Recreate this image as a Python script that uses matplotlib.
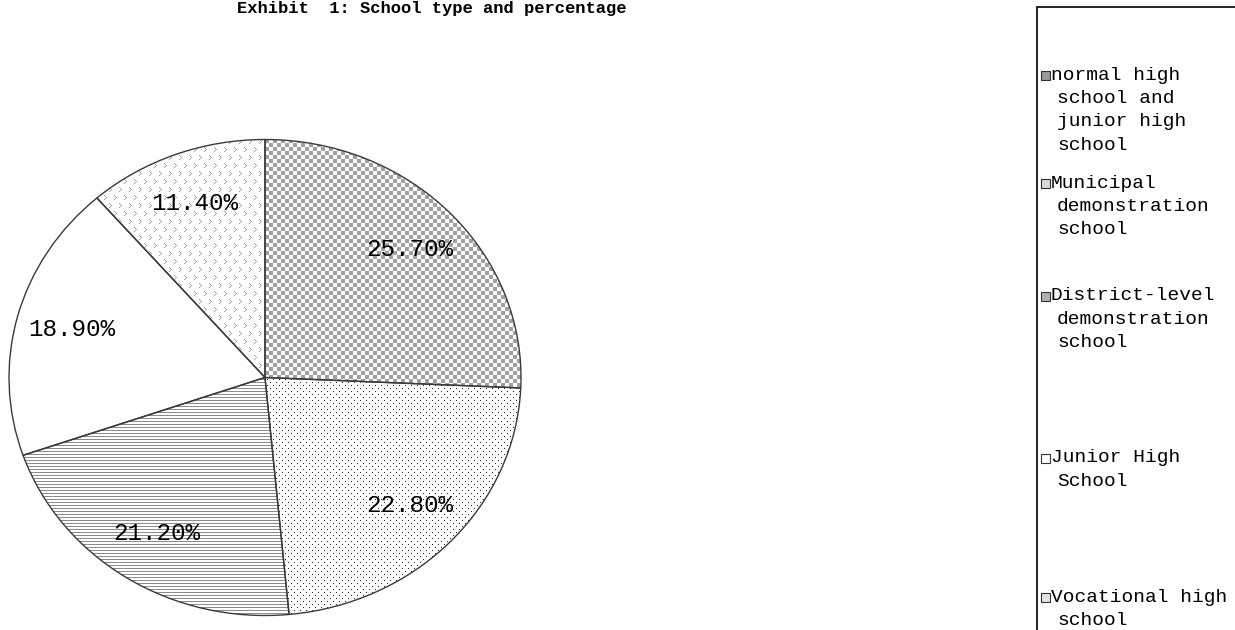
import numpy as np
import matplotlib
matplotlib.use("Agg")
import matplotlib.pyplot as plt
from matplotlib.patches import Rectangle

# data
shares = [25.7, 22.8, 21.2, 18.9, 11.4]
school_types = [
    "normal high\nschool and\njunior high\nschool",
    "Municipal\ndemonstration\nschool",
    "District-level\ndemonstration\nschool",
    "Junior High\nSchool",
    "Vocational high\nschool",
]
title = "Exhibit  1: School type and percentage"

W, H = 1235, 630
FONT = "Liberation Mono"


def pattern(kind, h, w):
    yy, xx = np.mgrid[0:h, 0:w]
    img = np.ones((h, w, 3))
    if kind == "checker":
        mask = ((xx // 4) + (yy // 4)) % 2 == 0
        img[mask] = 0.63
    elif kind == "dots":
        mask = ((xx % 6 == 0) & (yy % 6 == 0)) | ((xx % 6 == 3) & (yy % 6 == 3))
        img[mask] = 0.15
    elif kind == "hlines":
        mask = yy % 3 == 0
        img[mask] = 0.55
    elif kind == "chevron":
        ty = yy % 8
        shift = ((yy // 8) % 2) * 5
        tx = (xx + shift) % 10
        mask = ((ty == 0) & (tx == 0)) | ((ty == 1) & (tx == 1)) | ((ty == 2) & (tx == 2)) \
            | ((ty == 3) & (tx == 1)) | ((ty == 4) & (tx == 0))
        img[mask] = 0.62
    return img


kinds = ["checker", "dots", "hlines", "plain", "chevron"]
marker_grey = ["#9a9a9a", "#d8d8d8", "#b0b0b0", "white", "#e4e4e4"]

fig = plt.figure(figsize=(W / 100, H / 100), dpi=100)

# pie is slightly squashed vertically in the original
cx, cy, rx, ry = 265, 377.5, 256, 238
ax = fig.add_axes([(cx - rx) / W, (H - cy - ry) / H, 2 * rx / W, 2 * ry / H])

wedges, texts, autotexts = ax.pie(
    shares, startangle=90, counterclock=False, radius=1,
    autopct=lambda p: f"{p:.2f}%", pctdistance=0.78,
    wedgeprops=dict(facecolor="none", edgecolor="#3a3a3a", linewidth=1.0),
    textprops=dict(fontsize=17.5, family=FONT, color="black"),
)

ph, pw = int(2 * ry), int(2 * rx)
for w, kind in zip(wedges, kinds):
    w.set_zorder(2)
    w.set_clip_on(False)
    if kind == "plain":
        continue
    im = ax.imshow(pattern(kind, ph, pw), extent=(-1, 1, -1, 1),
                   interpolation="nearest", zorder=1)
    im.set_clip_path(w)
for t in autotexts:
    t.set_zorder(3)

ax.set_aspect("auto")
ax.set_xlim(-1, 1)
ax.set_ylim(-1, 1)
ax.axis("off")

fig.text(237 / W, 1 - 13 / H, title, ha="left", va="baseline",
         fontsize=12.3, fontweight="bold", family=FONT)

# legend box runs past the right and bottom edges
fig.patches.append(Rectangle((1037 / W, -0.1), 300 / W, 1.1 - 7 / H,
                             transform=fig.transFigure, fill=False,
                             edgecolor="black", linewidth=1.2))

entry_y = [75, 183, 296, 458, 597]
line_h = 23.5
for label, y0, g in zip(school_types, entry_y, marker_grey):
    lines = label.split("\n")
    fig.patches.append(Rectangle((1041 / W, 1 - (y0 + 4.5) / H), 9 / W, 9 / H,
                                 transform=fig.transFigure, facecolor=g,
                                 edgecolor="#333333", linewidth=0.8))
    for i, line in enumerate(lines):
        x = 1051 if i == 0 else 1057
        fig.text(x / W, 1 - (y0 + i * line_h) / H, line, ha="left",
                 va="center", fontsize=14, family=FONT)

fig.savefig("out.png", dpi=100)
